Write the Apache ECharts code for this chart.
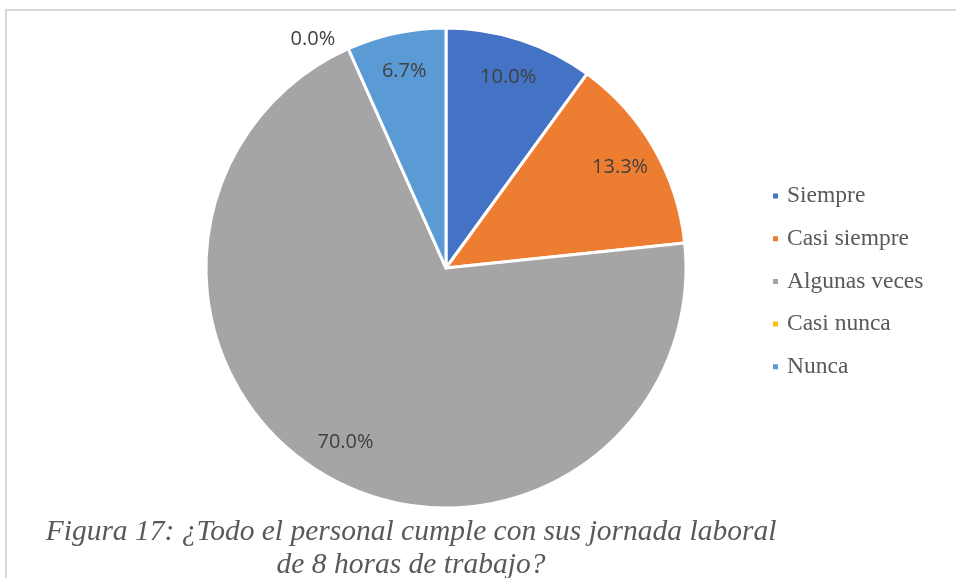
<!DOCTYPE html>
<html>
<head>
<meta charset="utf-8">
<script src="https://cdn.jsdelivr.net/npm/echarts@6/dist/echarts.min.js"></script>
<style>
  html, body { margin: 0; padding: 0; background: #fff; }
  #chart { width: 956px; height: 578px; }
</style>
</head>
<body>
<div id="chart"></div>
<script>
// respuestas (de 30 encuestados)
var categorias = ['Siempre', 'Casi siempre', 'Algunas veces', 'Casi nunca', 'Nunca'];
var valores = [3, 4, 21, 0, 2];
var colores = ['#4472c4', '#ed7d31', '#a5a5a5', '#ffc000', '#5b9bd5'];
var titulo = ['Figura 17: ¿Todo el personal cumple con sus jornada laboral', 'de 8 horas de trabajo?'];

var total = valores.reduce(function (a, b) { return a + b; }, 0);

var datos = categorias.map(function (c, i) {
  return { name: c, value: valores[i], itemStyle: { color: colores[i] } };
});

// serie solo para etiquetas (queda a ~82% del radio)
var datosEtiqueta = categorias.map(function (c, i) {
  var d = { name: c, value: valores[i] };
  if (valores[i] === 0) {
    // la de 0% va fuera, junto al borde
    d.label = { position: 'outside', distance: 0, offset: [28, 4] };
    d.labelLine = { show: false };
  }
  return d;
});

var chart = echarts.init(document.getElementById('chart'));
chart.setOption({
  animation: false,
  legend: {
    orient: 'vertical',
    left: 766,
    top: 179,
    itemWidth: 7,
    itemHeight: 7,
    itemGap: 18.7,
    icon: 'rect',
    textStyle: {
      fontFamily: 'Liberation Serif',
      fontSize: 23.5,
      lineHeight: 24,
      color: '#595959',
      padding: [0, 0, 0, 3]
    },
    data: categorias
  },
  graphic: [
    {
      type: 'rect',
      silent: true,
      shape: { x: 6, y: 10, width: 1000, height: 700 },
      style: { fill: 'none', stroke: '#d9d9d9', lineWidth: 2 }
    },
    {
      type: 'text',
      silent: true,
      style: {
        text: titulo.join('\n'),
        x: 411,
        y: 516,
        align: 'center',
        font: 'italic 29.5px "Liberation Serif"',
        lineHeight: 33,
        fill: '#595959'
      }
    }
  ],
  series: [
    {
      type: 'pie',
      center: [446, 268],
      radius: [0, 240],
      startAngle: 90,
      clockwise: true,
      silent: true,
      label: { show: false },
      labelLine: { show: false },
      itemStyle: { borderColor: '#fff', borderWidth: 3 },
      data: datos
    },
    {
      type: 'pie',
      center: [446, 268],
      radius: [156, 240],
      startAngle: 90,
      clockwise: true,
      silent: true,
      itemStyle: { color: 'rgba(0,0,0,0)' },
      label: {
        show: true,
        position: 'inside',
        fontFamily: 'Open Sans',
        fontSize: 20,
        color: '#404040',
        formatter: function (p) {
          return (p.value / total * 100).toFixed(1) + '%';
        }
      },
      labelLine: { show: false },
      legendHoverLink: false,
      data: datosEtiqueta
    }
  ]
});
</script>
</body>
</html>
